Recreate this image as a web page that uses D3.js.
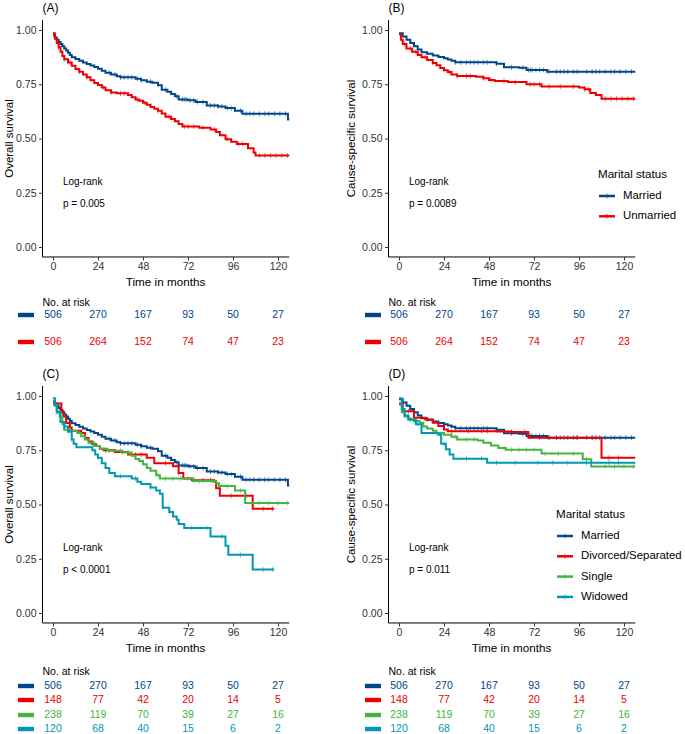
<!DOCTYPE html>
<html>
<head>
<meta charset="utf-8">
<script src="https://cdn.jsdelivr.net/npm/d3@7"></script>
<style>
  body { margin: 0; background: #fff; }
  svg { font-family: "Liberation Sans", Arial, sans-serif; }
</style>
</head>
<body>
<div id="chart"></div>
<script>
// tick labels and groups
var months = [0, 24, 48, 72, 96, 120];
var yTicks = [0, 0.25, 0.5, 0.75, 1];
var groups2 = ["Married", "Unmarried"];
var groups4 = ["Married", "Divorced/Separated", "Single", "Widowed"];
var colors = {"Married": "#00468B", "Unmarried": "#ED0000", "Divorced/Separated": "#ED0000", "Single": "#42B540", "Widowed": "#0099B4"};

// numbers at risk
var riskA = [[506, 270, 167, 93, 50, 27], [506, 264, 152, 74, 47, 23]];
var riskC = [[506, 270, 167, 93, 50, 27], [148, 77, 42, 20, 14, 5], [238, 119, 70, 39, 27, 16], [120, 68, 40, 15, 6, 2]];

// KM step points [month, survival]
var osMarried = [[0,0.975],[1,0.965],[2,0.955],[3,0.945],[4,0.935],[5,0.925],[6,0.915],[7,0.905],[8,0.895],[9,0.885],[10,0.875],[12,0.866],[14,0.858],[16,0.85],[18,0.843],[20,0.836],[22,0.829],[24,0.822],[26,0.812],[28,0.803],[31,0.795],[34,0.787],[36,0.782],[44,0.775],[47,0.768],[50,0.762],[53,0.757],[56,0.745],[58,0.725],[61,0.715],[63,0.705],[65,0.695],[67,0.68],[72,0.676],[76,0.668],[82,0.652],[88,0.648],[92,0.64],[97,0.628],[101,0.614],[125.3,0.588]];
var osUnmarried = [[0,0.985],[1,0.96],[2,0.94],[3,0.92],[4,0.9],[5,0.88],[6,0.865],[8,0.85],[10,0.835],[12,0.82],[14,0.808],[16,0.795],[18,0.782],[20,0.768],[22,0.756],[24,0.746],[26,0.735],[28,0.722],[31,0.712],[34,0.708],[40,0.7],[42,0.69],[44,0.68],[46,0.674],[48,0.665],[50,0.655],[52,0.645],[54,0.637],[56,0.628],[58,0.615],[60,0.6],[63,0.59],[65,0.58],[67,0.567],[69,0.555],[78,0.55],[84,0.542],[87,0.53],[89,0.515],[92,0.497],[95,0.485],[98,0.475],[104,0.455],[107,0.435],[108,0.422]];
var cssMarried = [[0,0.985],[2,0.97],[4,0.955],[6,0.94],[8,0.925],[10,0.91],[12,0.898],[15,0.89],[18,0.882],[21,0.876],[24,0.87],[26,0.864],[28,0.858],[30,0.851],[52,0.845],[56,0.828],[64,0.826],[68,0.816],[79,0.808]];
var cssUnmarried = [[0,0.98],[1,0.955],[2,0.935],[4,0.915],[7,0.9],[10,0.885],[12,0.875],[15,0.862],[18,0.848],[20,0.838],[22,0.825],[24,0.815],[26,0.806],[28,0.795],[31,0.788],[41,0.785],[45,0.778],[48,0.77],[51,0.765],[58,0.76],[68,0.75],[76,0.74],[96,0.735],[99,0.727],[102,0.71],[105,0.7],[108,0.683]];
var osDivorced = [[0,0.965],[4.5,0.93],[5.5,0.906],[7,0.876],[9,0.855],[10,0.84],[15,0.83],[17,0.806],[19,0.79],[21,0.778],[23,0.77],[25,0.757],[27,0.75],[33,0.742],[40,0.73],[50,0.715],[54,0.69],[64,0.676],[67,0.645],[69.5,0.62],[74,0.612],[86,0.605],[87,0.575],[89,0.54],[106.5,0.48]];
var osSingle = [[0,0.96],[2,0.93],[3.5,0.906],[5,0.87],[6,0.845],[9,0.84],[13,0.83],[15,0.815],[17,0.8],[19,0.785],[22,0.77],[25,0.757],[29,0.748],[37,0.74],[42,0.725],[44,0.71],[46,0.7],[48,0.685],[50,0.668],[52,0.655],[55,0.635],[57,0.62],[75,0.608],[87,0.598],[88.5,0.585],[97,0.565],[102.5,0.507]];
var osWidowed = [[0,0.99],[1,0.955],[2,0.925],[4,0.88],[6,0.86],[8,0.835],[10,0.8],[11,0.78],[12.5,0.764],[21,0.75],[22.5,0.73],[24,0.715],[26,0.69],[28,0.668],[30,0.645],[33,0.63],[42,0.62],[45,0.605],[47,0.595],[52,0.578],[55,0.565],[57,0.55],[58.5,0.485],[62,0.465],[64,0.445],[66,0.43],[67,0.41],[70,0.392],[84,0.353],[92,0.31],[93.5,0.268],[106.5,0.2]];
var cssDivorced = [[0,0.965],[2,0.93],[8,0.9],[14,0.892],[18,0.877],[21,0.862],[24,0.846],[26,0.838],[52,0.836],[60,0.834],[69,0.808],[108,0.715]];
var cssSingle = [[0,0.96],[1.5,0.925],[3,0.905],[5,0.895],[8,0.885],[11,0.877],[13,0.86],[15,0.85],[18,0.84],[20,0.83],[24,0.822],[28,0.812],[31,0.8],[42,0.795],[45,0.785],[49,0.772],[53,0.76],[57,0.752],[76,0.735],[98,0.708],[102.5,0.675]];
var cssWidowed = [[0,0.99],[1.5,0.94],[3,0.91],[5,0.89],[9,0.87],[12,0.83],[21,0.822],[22.5,0.78],[25,0.755],[27,0.73],[29,0.711],[47,0.692]];

// last follow-up month per curve
var endFull = 126, endShort = 118;

// censoring times (months)
var cenMarried = [30,33,36,38,40,42,45,47,52,60,66,69,70,71,73,75,77,80,84,86,88,90,93,95,100,103,105,107,110,113,115,118,121,124];
var cenUnmarried = [3,6,9,14,18,27,31,36,38,45,49,56,62,70,72,75,80,86,93,99,101,110,113,116,119,122,125];
var cenDivorced = [5,15,28,37,44,47,60,67,75,80,84,95,103,112,117];
var cenSingle = [8,20,30,36,40,56,60,64,68,72,78,85,93,100,110,115,120,125];
var cenWidowed = [2,6,10,24,36,44,52,62,74,82,90,100,112,117];

var panels = [
  {label: "(A)", ytitle: "Overall survival", x0: 53, y0: 247, ytx: 10, p: "p = 0.005",
   curves: [{g: "Married", pts: osMarried, end: endFull, cen: cenMarried}, {g: "Unmarried", pts: osUnmarried, end: endFull, cen: cenUnmarried}]},
  {label: "(B)", ytitle: "Cause-specific survival", x0: 399, y0: 247, ytx: 352, p: "p = 0.0089",
   curves: [{g: "Married", pts: cssMarried, end: endFull, cen: cenMarried}, {g: "Unmarried", pts: cssUnmarried, end: endFull, cen: cenUnmarried}],
   legend: {groups: groups2, tx: 598, ty: 175, y: 196}},
  {label: "(C)", ytitle: "Overall survival", x0: 53, y0: 613, ytx: 10, p: "p < 0.0001",
   curves: [{g: "Married", pts: osMarried, end: endFull, cen: cenMarried}, {g: "Divorced/Separated", pts: osDivorced, end: endShort, cen: cenDivorced},
            {g: "Single", pts: osSingle, end: endFull, cen: cenSingle}, {g: "Widowed", pts: osWidowed, end: endShort, cen: cenWidowed}]},
  {label: "(D)", ytitle: "Cause-specific survival", x0: 399, y0: 613, ytx: 352, p: "p = 0.011",
   curves: [{g: "Married", pts: cssMarried, end: endFull, cen: cenMarried}, {g: "Divorced/Separated", pts: cssDivorced, end: endFull, cen: cenDivorced},
            {g: "Single", pts: cssSingle, end: endFull, cen: cenSingle}, {g: "Widowed", pts: cssWidowed, end: endFull, cen: cenWidowed}],
   legend: {groups: groups4, tx: 556, ty: 515, y: 536}}
];

var tables = [
  {x0: 53, title: 283, head: 303, rows: [315, 342], groups: groups2, data: riskA, barX: 18},
  {x0: 399, title: 283, head: 303, rows: [315, 342], groups: groups2, data: riskA, barX: 365},
  {x0: 53, title: 649, head: 672, rows: [686, 700, 715, 729], groups: groups4, data: riskC, barX: 18},
  {x0: 399, title: 649, head: 672, rows: [686, 700, 715, 729], groups: groups4, data: riskC, barX: 365}
];

var svg = d3.select("#chart").append("svg")
    .attr("width", 685)
    .attr("height", 734);

function survAt(pts, t) {
    var s = pts[0][1];
    pts.forEach(function(d) { if (d[0] <= t) s = d[1]; });
    return s;
}

panels.forEach(function(p) {
    var x = d3.scaleLinear().domain([0, 120]).range([p.x0, p.x0 + 225]);
    var y = d3.scaleLinear().domain([0, 1]).range([p.y0, p.y0 - 217]);
    var g = svg.append("g");

    var xAxis = g.append("g")
        .attr("transform", "translate(0," + y(-0.046) + ")")
        .call(d3.axisBottom(x).tickValues(months).tickSize(3.5).tickPadding(2.5));
    xAxis.select(".domain").attr("d", "M" + x(-5.6) + ",0H" + x(126));
    var yAxis = g.append("g")
        .attr("transform", "translate(" + x(-5.6) + ",0)")
        .call(d3.axisLeft(y).tickValues(yTicks).tickFormat(d3.format(".2f")).tickSize(3.5).tickPadding(2.5));
    yAxis.select(".domain").attr("d", "M0," + y(1.046) + "V" + y(-0.046));
    g.selectAll(".tick text").style("font-size", "10.5px").attr("fill", "#333");
    g.selectAll(".tick line").attr("stroke", "#333");
    g.selectAll(".domain").attr("stroke", "#000").attr("stroke-width", 1);

    g.append("text")
        .attr("x", x(-5.6))
        .attr("y", y(1.046) - 8)
        .style("font-size", "12px")
        .text(p.label);

    g.append("text")
        .attr("transform", "translate(" + p.ytx + "," + y(0.5) + ")rotate(-90)")
        .attr("text-anchor", "middle")
        .attr("dominant-baseline", "middle")
        .style("font-size", "11.5px")
        .text(p.ytitle);

    g.append("text").attr("x", x(5.3)).attr("y", y(0.30))
        .attr("dominant-baseline", "middle").style("font-size", "10px").text("Log-rank");
    g.append("text").attr("x", x(5.3)).attr("y", y(0.195))
        .attr("dominant-baseline", "middle").style("font-size", "10px").text(p.p);

    var line = d3.line()
        .x(function(d) { return x(d[0]); })
        .y(function(d) { return y(d[1]); })
        .curve(d3.curveStepAfter);

    p.curves.forEach(function(c) {
        var pts = c.pts.concat([[c.end, c.pts[c.pts.length - 1][1]]]);
        g.append("path")
            .datum(pts)
            .attr("fill", "none")
            .attr("stroke", colors[c.g])
            .attr("stroke-width", 2)
            .attr("d", line);
        g.selectAll(null)
            .data(c.cen.filter(function(t) { return t <= c.end; }))
            .enter()
            .append("line")
            .attr("x1", function(t) { return x(t); })
            .attr("x2", function(t) { return x(t); })
            .attr("y1", function(t) { return y(survAt(c.pts, t)) - 2.5; })
            .attr("y2", function(t) { return y(survAt(c.pts, t)) + 2.5; })
            .attr("stroke", colors[c.g])
            .attr("stroke-opacity", 0.6)
            .attr("stroke-width", 1);
    });

    if (p.legend) {
        var L = p.legend;
        g.append("text").attr("x", L.tx).attr("y", L.ty)
            .attr("dominant-baseline", "middle").style("font-size", "11.6px").text("Marital status");
        L.groups.forEach(function(name, i) {
            var yy = L.y + i * 20.3;
            g.append("line").attr("x1", L.tx + 1).attr("x2", L.tx + 17).attr("y1", yy).attr("y2", yy)
                .attr("stroke", colors[name]).attr("stroke-width", 2.5);
            g.append("line").attr("x1", L.tx + 9).attr("x2", L.tx + 9).attr("y1", yy - 2.5).attr("y2", yy + 2.5)
                .attr("stroke", colors[name]).attr("stroke-opacity", 0.6).attr("stroke-width", 1);
            g.append("text").attr("x", L.tx + 25).attr("y", yy)
                .attr("dominant-baseline", "middle").style("font-size", "11.4px").text(name);
        });
    }
});

tables.forEach(function(t) {
    var x = d3.scaleLinear().domain([0, 120]).range([t.x0, t.x0 + 225]);
    var g = svg.append("g");
    g.append("text")
        .attr("x", x(60)).attr("y", t.title)
        .attr("text-anchor", "middle").attr("dominant-baseline", "middle")
        .style("font-size", "11.7px").text("Time in months");
    g.append("text")
        .attr("x", x(-5.6)).attr("y", t.head)
        .attr("dominant-baseline", "middle")
        .style("font-size", "10.5px").text("No. at risk");
    t.groups.forEach(function(name, i) {
        g.append("rect")
            .attr("x", t.barX).attr("y", t.rows[i] - 2.2)
            .attr("width", 16).attr("height", 4.4)
            .attr("fill", colors[name]);
        g.selectAll(null)
            .data(t.data[i])
            .enter()
            .append("text")
            .attr("x", function(d, j) { return x(months[j]); })
            .attr("y", t.rows[i])
            .attr("text-anchor", "middle").attr("dominant-baseline", "middle")
            .attr("fill", colors[name])
            .style("font-size", "10.5px")
            .text(function(d) { return d; });
    });
});
</script>
</body>
</html>
